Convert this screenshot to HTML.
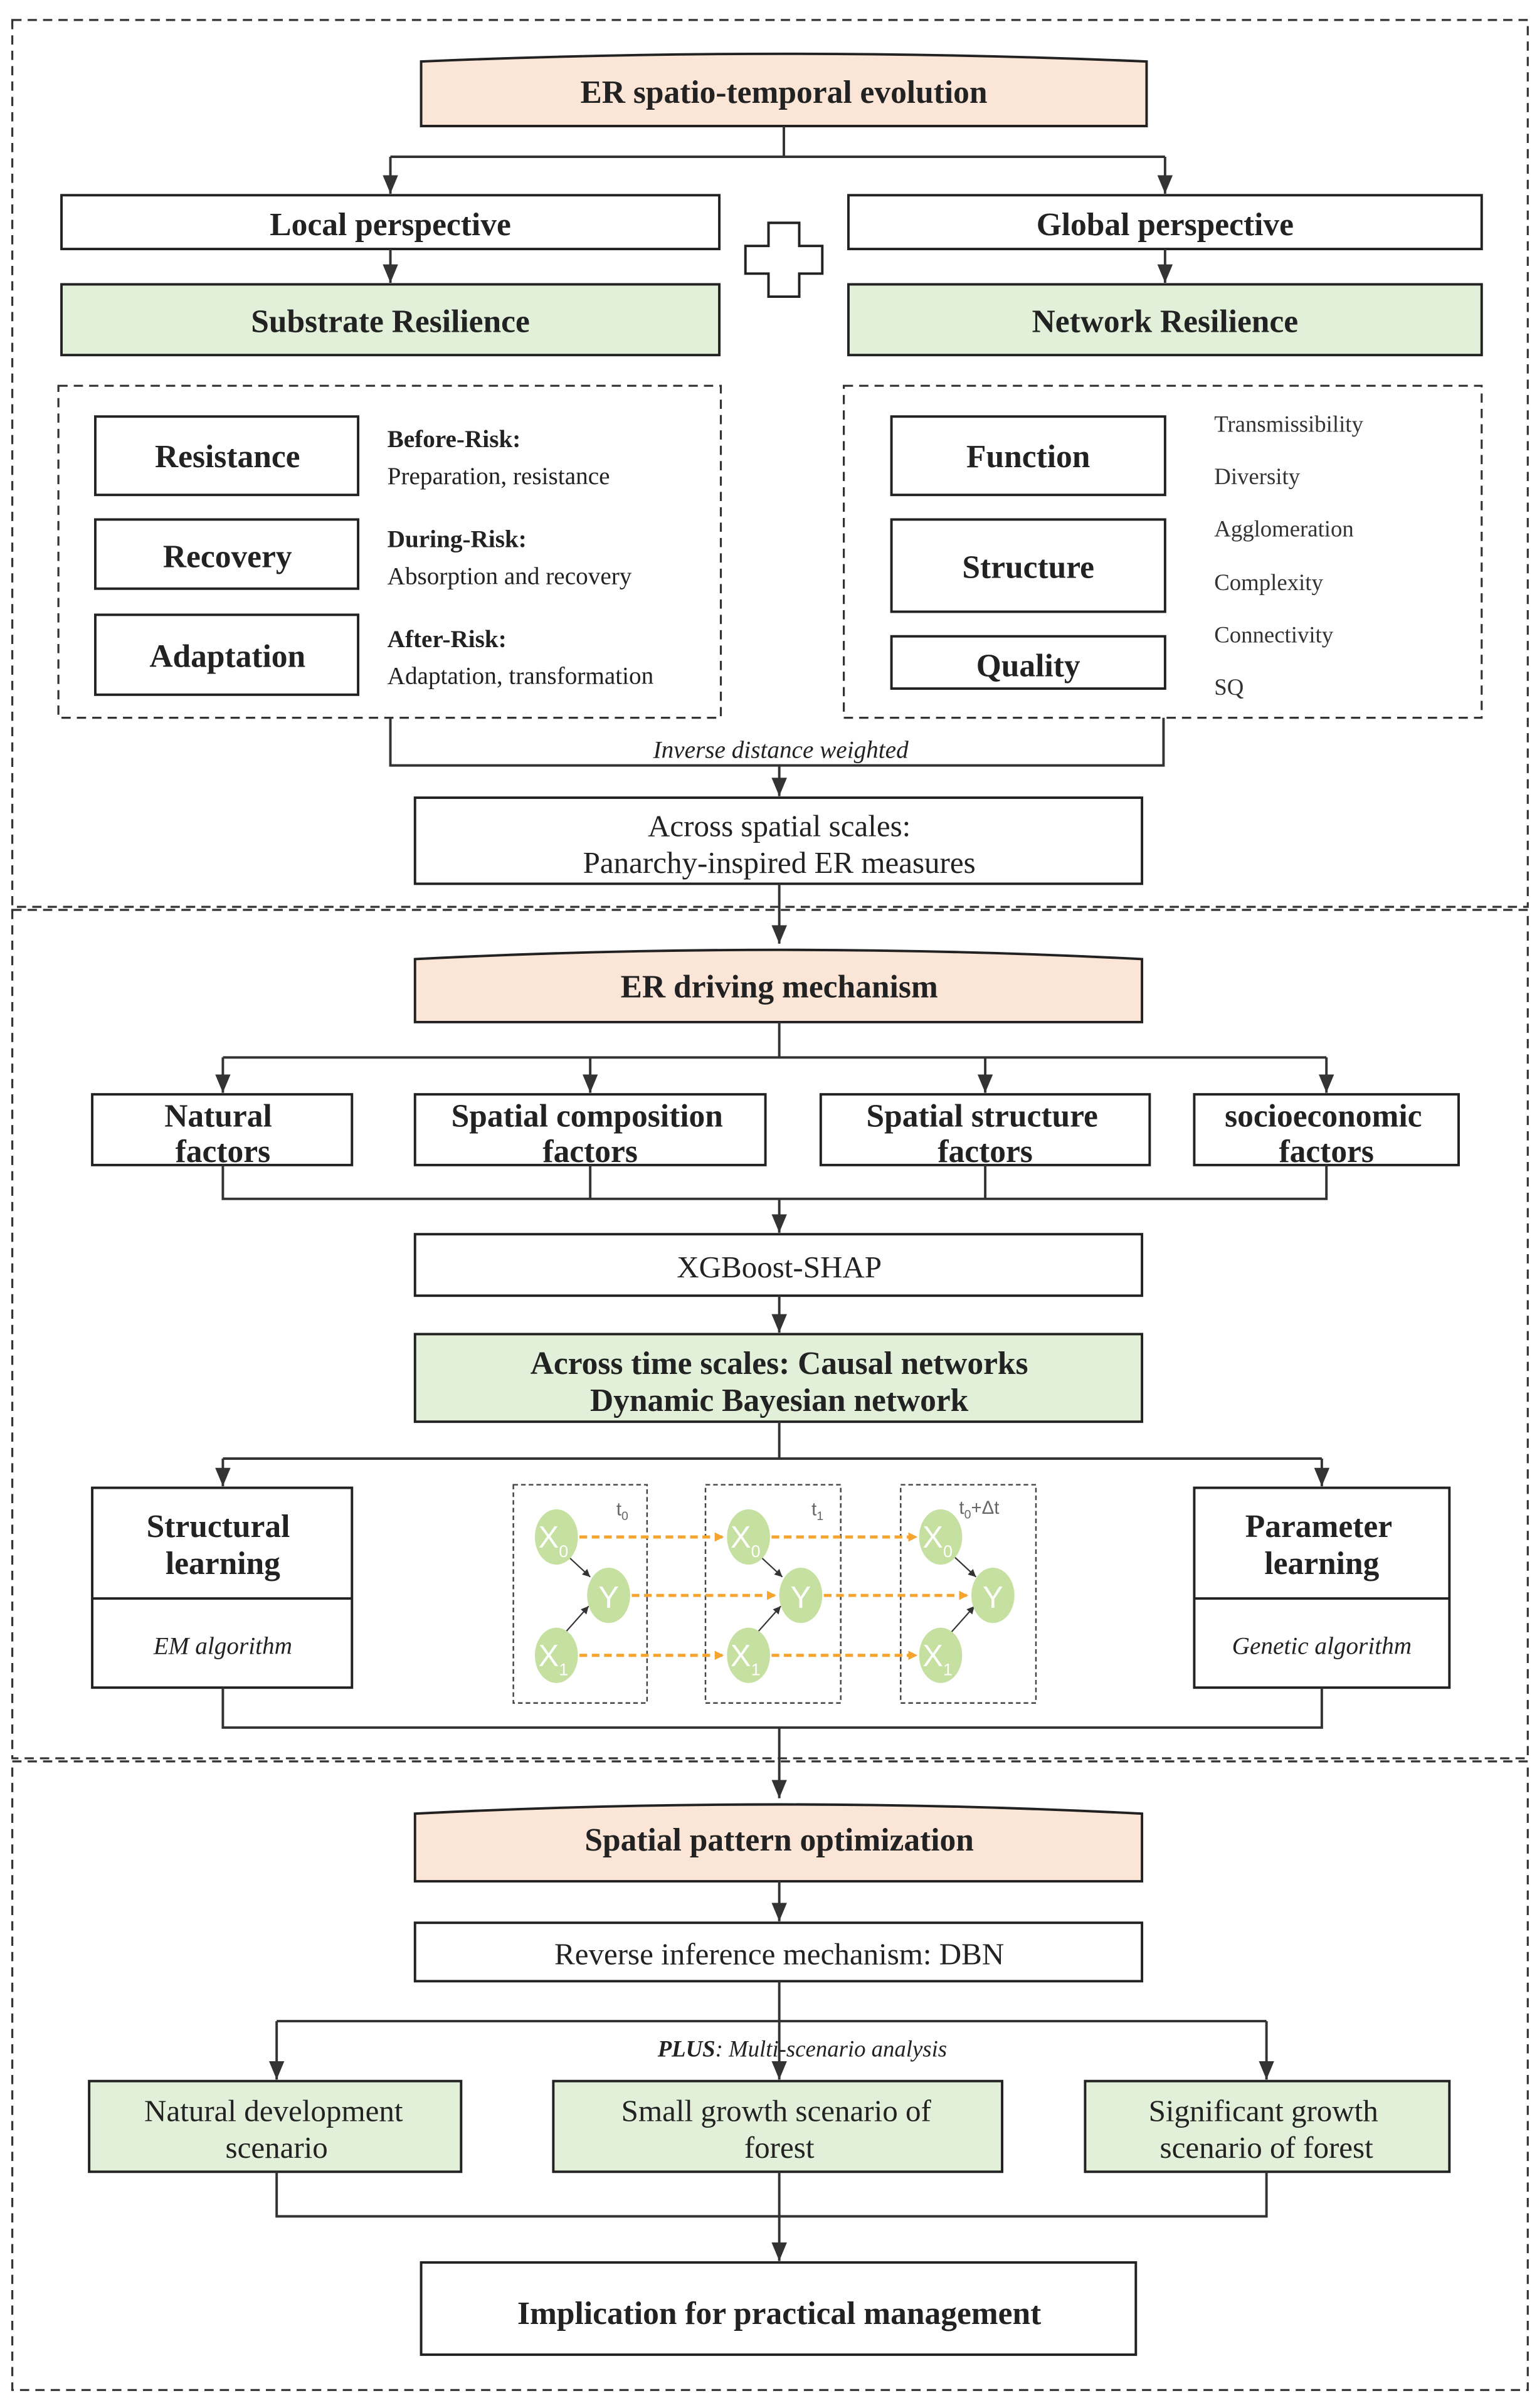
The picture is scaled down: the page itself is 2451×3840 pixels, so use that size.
<!DOCTYPE html>
<html><head><meta charset="utf-8"><style>html,body{margin:0;padding:0;background:#fff}svg{display:block}</style></head>
<body>
<svg width="2451" height="3840" viewBox="0 0 1000 1566.7" preserveAspectRatio="none" xmlns="http://www.w3.org/2000/svg" font-family="'Liberation Serif', serif" fill="#222">
<defs>
<marker id="a" markerWidth="12" markerHeight="10" refX="12" refY="5" orient="auto" markerUnits="userSpaceOnUse" viewBox="0 0 12 10"><path d="M0,0 L12,5 L0,10 Z" fill="#333"/></marker>
<marker id="o" markerWidth="6" markerHeight="6" refX="6" refY="3" orient="auto" markerUnits="userSpaceOnUse"><path d="M0,0 L6,3 L0,6 Z" fill="#f5a430"/></marker>
<marker id="k" markerWidth="5" markerHeight="5" refX="5" refY="2.5" orient="auto" markerUnits="userSpaceOnUse"><path d="M0,0 L5,2.5 L0,5 Z" fill="#333"/></marker>
</defs>
<g fill="none" stroke="#333" stroke-width="1.3" stroke-dasharray="6,4">
<rect x="8" y="13" width="986" height="577"/>
<rect x="8" y="592" width="986" height="552"/>
<rect x="8" y="1146" width="986" height="409"/>
<rect x="38" y="251" width="431" height="216"/>
<rect x="549" y="251" width="415" height="216"/>
</g>
<g stroke="#222" stroke-width="1.6">
<path d="M274,82 V40 Q510,30 746,40 V82 Z" fill="#fbe5d6"/>
<path d="M270,665 V624 Q507,612 743,624 V665 Z" fill="#fbe5d6"/>
<path d="M270,1224 V1180 Q507,1168 743,1180 V1224 Z" fill="#fbe5d6"/>
<g fill="#fff">
<rect x="40" y="127" width="428" height="35"/>
<rect x="552" y="127" width="412" height="35"/>
<rect x="62" y="271" width="171" height="51"/>
<rect x="62" y="338" width="171" height="45"/>
<rect x="62" y="400" width="171" height="52"/>
<rect x="580" y="271" width="178" height="51"/>
<rect x="580" y="338" width="178" height="60"/>
<rect x="580" y="414" width="178" height="34"/>
<rect x="270" y="519" width="473" height="56"/>
<rect x="60" y="712" width="169" height="46"/>
<rect x="270" y="712" width="228" height="46"/>
<rect x="534" y="712" width="214" height="46"/>
<rect x="777" y="712" width="172" height="46"/>
<rect x="270" y="803" width="473" height="40"/>
<rect x="60" y="968" width="169" height="130"/>
<rect x="777" y="968" width="166" height="130"/>
<rect x="270" y="1251" width="473" height="38"/>
<rect x="274" y="1472" width="465" height="60"/>
</g>
<g fill="#e2f0d9">
<rect x="40" y="185" width="428" height="46"/>
<rect x="552" y="185" width="412" height="46"/>
<rect x="270" y="868" width="473" height="57"/>
<rect x="58" y="1354" width="242" height="59"/>
<rect x="360" y="1354" width="292" height="59"/>
<rect x="706" y="1354" width="237" height="59"/>
</g>
<line x1="60" y1="1040" x2="229" y2="1040"/>
<line x1="777" y1="1040" x2="943" y2="1040"/>
<path d="M500,145 h20 v15 h15 v18 h-15 v15 h-20 v-15 h-15 v-18 h15 Z" fill="#fff"/>
</g>
<g fill="none" stroke="#333" stroke-width="1.6">
<path d="M510,82 V102 M254,102 H758"/>
<path d="M254,102 V126" marker-end="url(#a)"/>
<path d="M758,102 V126" marker-end="url(#a)"/>
<path d="M254,162 V184" marker-end="url(#a)"/>
<path d="M758,162 V184" marker-end="url(#a)"/>
<path d="M254,467 V498 H757 V467"/>
<path d="M507,498 V518" marker-end="url(#a)"/>
<path d="M507,575 V614" marker-end="url(#a)"/>
<path d="M507,665 V688 M145,688 H863"/>
<path d="M145,688 V711" marker-end="url(#a)"/>
<path d="M384,688 V711" marker-end="url(#a)"/>
<path d="M641,688 V711" marker-end="url(#a)"/>
<path d="M863,688 V711" marker-end="url(#a)"/>
<path d="M145,758 V780 H863 V758 M384,758 V780 M641,758 V780"/>
<path d="M507,780 V802" marker-end="url(#a)"/>
<path d="M507,843 V867" marker-end="url(#a)"/>
<path d="M507,925 V949 M145,949 H860"/>
<path d="M145,949 V967" marker-end="url(#a)"/>
<path d="M860,949 V967" marker-end="url(#a)"/>
<path d="M145,1098 V1124 H860 V1098"/>
<path d="M507,1124 V1170" marker-end="url(#a)"/>
<path d="M507,1224 V1250" marker-end="url(#a)"/>
<path d="M507,1289 V1315 M180,1315 H824"/>
<path d="M180,1315 V1353" marker-end="url(#a)"/>
<path d="M507,1315 V1353" marker-end="url(#a)"/>
<path d="M824,1315 V1353" marker-end="url(#a)"/>
<path d="M180,1413 V1442 H824 V1413 M507,1413 V1442"/>
<path d="M507,1442 V1471" marker-end="url(#a)"/>
</g>
<!-- DBN -->
<g>
<g fill="none" stroke="#444" stroke-width="1" stroke-dasharray="3,2">
<rect x="334" y="966" width="87" height="142"/>
<rect x="459" y="966" width="88" height="142"/>
<rect x="586" y="966" width="88" height="142"/>
</g>
<g fill="none" stroke="#f5a430" stroke-width="2" stroke-dasharray="5,3">
<path d="M377,1000 H471" marker-end="url(#o)"/><path d="M502,1000 H597" marker-end="url(#o)"/>
<path d="M411,1038 H505" marker-end="url(#o)"/><path d="M536,1038 H630" marker-end="url(#o)"/>
<path d="M377,1077 H471" marker-end="url(#o)"/><path d="M502,1077 H597" marker-end="url(#o)"/>
</g>
<g stroke="#333" stroke-width="0.9">
<path d="M370,1013 L384,1026" marker-end="url(#k)"/><path d="M495,1013 L509,1026" marker-end="url(#k)"/><path d="M621,1013 L635,1026" marker-end="url(#k)"/>
<path d="M367,1063 L383,1045" marker-end="url(#k)"/><path d="M492,1063 L508,1045" marker-end="url(#k)"/><path d="M618,1063 L634,1045" marker-end="url(#k)"/>
</g>
<g fill="#c5e0a0">
<ellipse cx="362" cy="1000" rx="14" ry="18"/><ellipse cx="396" cy="1038" rx="14" ry="18"/><ellipse cx="362" cy="1077" rx="14" ry="18"/>
<ellipse cx="487" cy="1000" rx="14" ry="18"/><ellipse cx="521" cy="1038" rx="14" ry="18"/><ellipse cx="487" cy="1077" rx="14" ry="18"/>
<ellipse cx="612" cy="1000" rx="14" ry="18"/><ellipse cx="646" cy="1038" rx="14" ry="18"/><ellipse cx="612" cy="1077" rx="14" ry="18"/>
</g>
<g fill="#fff" font-family="'Liberation Sans', sans-serif" font-size="20" text-anchor="middle">
<text x="360" y="1007">X<tspan font-size="11" dy="6">0</tspan></text>
<text x="396" y="1046">Y</text>
<text x="360" y="1084">X<tspan font-size="11" dy="6">1</tspan></text>
<text x="485" y="1007">X<tspan font-size="11" dy="6">0</tspan></text>
<text x="521" y="1046">Y</text>
<text x="485" y="1084">X<tspan font-size="11" dy="6">1</tspan></text>
<text x="610" y="1007">X<tspan font-size="11" dy="6">0</tspan></text>
<text x="646" y="1046">Y</text>
<text x="610" y="1084">X<tspan font-size="11" dy="6">1</tspan></text>
</g>
<g fill="#666" font-family="'Liberation Sans', sans-serif" font-size="12">
<text x="401" y="986">t<tspan font-size="8" dy="3">0</tspan></text>
<text x="528" y="986">t<tspan font-size="8" dy="3">1</tspan></text>
<text x="624" y="985">t<tspan font-size="8" dy="3">0</tspan><tspan dy="-3">+Δt</tspan></text>
</g>
</g>
<!-- text -->
<g font-weight="bold" font-size="21" text-anchor="middle">
<text x="510" y="67">ER spatio-temporal evolution</text>
<text x="254" y="153">Local perspective</text>
<text x="758" y="153">Global perspective</text>
<text x="254" y="216">Substrate Resilience</text>
<text x="758" y="216">Network Resilience</text>
<text x="148" y="304">Resistance</text>
<text x="148" y="369">Recovery</text>
<text x="148" y="434">Adaptation</text>
<text x="669" y="304">Function</text>
<text x="669" y="376">Structure</text>
<text x="669" y="440">Quality</text>
<text x="507" y="649">ER driving mechanism</text>
<text x="142" y="733">Natural</text><text x="145" y="756">factors</text>
<text x="382" y="733">Spatial composition</text><text x="384" y="756">factors</text>
<text x="639" y="733">Spatial structure</text><text x="641" y="756">factors</text>
<text x="861" y="733">socioeconomic</text><text x="863" y="756">factors</text>
<text x="507" y="894">Across time scales: Causal networks</text>
<text x="507" y="918">Dynamic Bayesian network</text>
<text x="142" y="1000">Structural</text><text x="145" y="1024">learning</text>
<text x="858" y="1000">Parameter</text><text x="860" y="1024">learning</text>
<text x="507" y="1204">Spatial pattern optimization</text>
<text x="507" y="1512">Implication for practical management</text>
</g>
<g font-size="16" text-anchor="start">
<text x="252" y="291" font-weight="bold">Before-Risk:</text>
<text x="252" y="315">Preparation, resistance</text>
<text x="252" y="356" font-weight="bold">During-Risk:</text>
<text x="252" y="380">Absorption and recovery</text>
<text x="252" y="421" font-weight="bold">After-Risk:</text>
<text x="252" y="445">Adaptation, transformation</text>
</g>
<g font-size="15" fill="#333">
<text x="790" y="281">Transmissibility</text>
<text x="790" y="315">Diversity</text>
<text x="790" y="349">Agglomeration</text>
<text x="790" y="384">Complexity</text>
<text x="790" y="418">Connectivity</text>
<text x="790" y="452">SQ</text>
</g>
<g font-size="20" text-anchor="middle" fill="#222">
<text x="507" y="544">Across spatial scales:</text>
<text x="507" y="568">Panarchy-inspired ER measures</text>
<text x="507" y="831">XGBoost-SHAP</text>
<text x="507" y="1278">Reverse inference mechanism: DBN</text>
<text x="178" y="1380">Natural development</text><text x="180" y="1404">scenario</text>
<text x="505" y="1380">Small growth scenario of</text><text x="507" y="1404">forest</text>
<text x="822" y="1380">Significant growth</text><text x="824" y="1404">scenario of forest</text>
</g>
<g font-style="italic" text-anchor="middle" font-size="16">
<text x="508" y="493">Inverse distance weighted</text>
<text x="145" y="1076">EM algorithm</text>
<text x="860" y="1076">Genetic algorithm</text>
<text x="522" y="1338" font-size="15"><tspan font-weight="bold">PLUS</tspan>: Multi-scenario analysis</text>
</g>
</svg>
</body></html>
